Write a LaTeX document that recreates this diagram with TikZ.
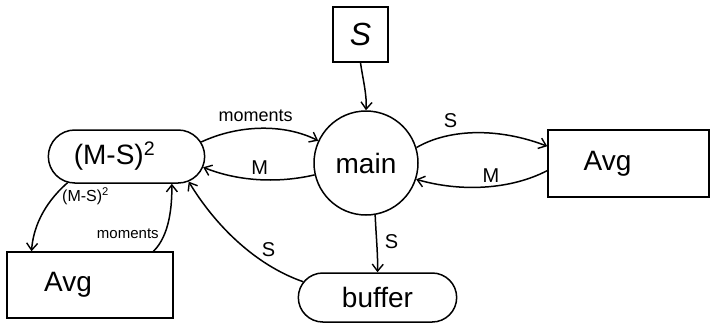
\documentclass[tikz,border=0pt]{standalone}
\usepackage{fontspec}
\setmainfont{Liberation Sans}
\usetikzlibrary{arrows.meta,shapes.misc}
\tikzset{
  ln/.style={line width=1.5pt},
  arr/.style={ln,-{Straight Barb[length=7pt,width=11pt,line width=1.4pt]}},
  bigtxt/.style={font=\fontsize{28}{30}\selectfont},
  lbl/.style={font=\fontsize{20}{22}\selectfont},
  sq/.style={draw,ln,rectangle},
  pill/.style={draw,ln,rounded rectangle},
}
\begin{document}
\begin{tikzpicture}[x=1pt,y=-1pt]
\useasboundingbox (0,0) rectangle (711,330);
% nodes
\node[sq,minimum width=55pt,minimum height=55pt,bigtxt,font=\fontsize{32}{34}\selectfont\itshape] (sbox) at (360.5,34.5) {S};
\node[draw,ln,circle,minimum size=104pt,inner sep=0pt,bigtxt] (main) at (366,163) {main};
\node[sq,minimum width=161pt,minimum height=67pt,label={[bigtxt,xshift=-21pt]center:Avg}] (avgR) at (628.5,163.5) {};
\node[sq,minimum width=166pt,minimum height=66pt,label={[bigtxt,xshift=-22pt]center:Avg}] (avgL) at (90,285) {};
\node[pill,minimum width=163pt,minimum height=53pt,label={[bigtxt,xshift=-12pt]center:(M-S)\textsuperscript{2}}] (msq) at (126.5,156.5) {};
\node[pill,minimum width=165pt,minimum height=49pt,bigtxt] (buffer) at (377.5,297.5) {buffer};
% connectors
\draw[arr] (sbox.south) .. controls (363,80) and (367,95) .. (main.north);
\draw[arr] (msq.11) .. controls (240,124) and (285,124) .. (main.155)
  node[pos=0.45,above=3pt,font=\fontsize{18}{20}\selectfont] {moments};
\draw[arr] (main.193) .. controls (280,183) and (240,182) .. (msq.-8)
  node[pos=0.5,above=1pt,lbl] {M};
\draw[arr] (main.17) .. controls (450,128) and (500,128) .. (avgR.168)
  node[pos=0.3,above=3pt,lbl] {S};
\draw[arr] (avgR.185) .. controls (510,190) and (460,192) .. (main.-18)
  node[pos=0.45,above=0pt,lbl] {M};
\draw[arr] (main.-80) .. controls (376,235) and (378,255) .. (buffer.north)
  node[pos=0.45,right=4pt,lbl] {S};
\draw[arr] (buffer.168) .. controls (255,265) and (215,225) .. (msq.-22)
  node[pos=0.25,above=4pt,lbl] {S};
\draw[arr] (msq.204) .. controls (42,205) and (33,230) .. (avgL.150)
  node[pos=0.2,right=4pt,font=\fontsize{16}{18}\selectfont] {(M-S)\textsuperscript{2}};
\draw[arr] (avgL.28) .. controls (170,235) and (172,205) .. (msq.-31)
  node[pos=0.3,left=2pt,font=\fontsize{15}{17}\selectfont] {moments};
\end{tikzpicture}
\end{document}
